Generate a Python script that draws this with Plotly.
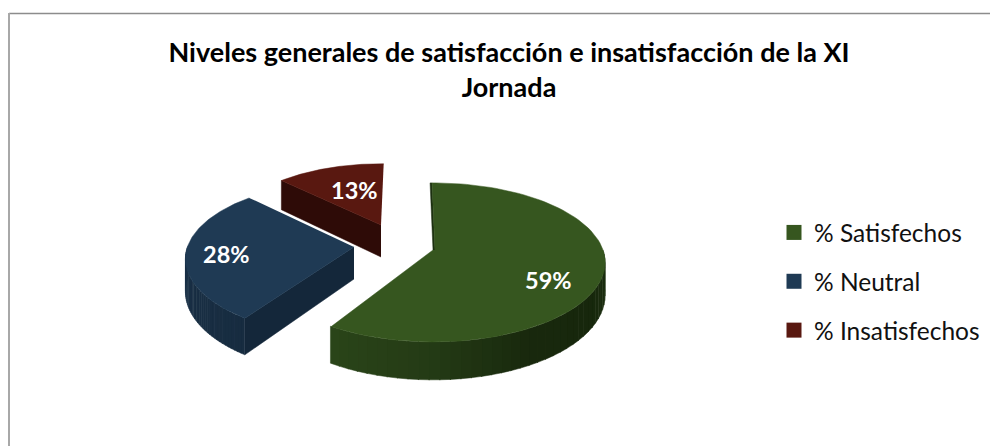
import numpy as np
import plotly.graph_objects as go

categories = ["% Satisfechos", "% Neutral", "% Insatisfechos"]
values = [59, 28, 13]
title_text = "Niveles generales de satisfacción e insatisfacción de la XI<br>Jornada"

top_colors = ["#36561F", "#1F3A54", "#591810"]
wall_stops = [[(0x2A, 0x44, 0x19), (0x24, 0x3B, 0x15), (0x18, 0x28, 0x0D), (0x17, 0x27, 0x0C), (0x1E, 0x33, 0x11)],
              [(0x1A, 0x31, 0x47), (0x17, 0x2C, 0x40)],
              [(0x2C, 0x0A, 0x06), (0x2C, 0x0A, 0x06)]]
cut_colors = ["#1D3010", "#14273A", "#2E0B07"]
apexes = [(433, 250), (354, 247), (381, 225)]
rotations = [-0.02, 0.045, 0.02]
scales = [1.0, 0.98, 0.9]
label_xy = [(548, 280), (226, 254), (354, 190)]

RX, RY, K, DEPTH = 170, 77.6, 0.156, 32
OFF = 8  # page margin of the browser body
FIG_W, FIG_H = 990, 438
N_BANDS = 40


def px(p):
    return (p - OFF) / FIG_W


def py(p):
    return 1 - (p - OFF) / FIG_H


def project(apex, theta, radial=1.0, drop=0.0):
    u, v = radial * np.sin(theta), radial * np.cos(theta)
    s = 1 / (1 + K * v)
    return apex[0] + RX * u * s, apex[1] - RY * v * s + drop * s


def poly(fig, xs, ys, color):
    fig.add_trace(go.Scatter(x=np.asarray(xs), y=np.asarray(ys), mode="lines", fill="toself",
                             fillcolor=color, line=dict(color=color, width=0.5),
                             hoverinfo="skip", showlegend=False))


def wall(fig, apex, t0, t1, radial, color):
    t = np.linspace(t0, t1, 8)
    xa, ya = project(apex, t, radial)
    xb, yb = project(apex, t, radial, DEPTH)
    poly(fig, np.r_[xa, xb[::-1]], np.r_[ya, yb[::-1]], color)


def cut(fig, apex, t, radial, color):
    p0 = project(apex, t, 0.0)
    p1 = project(apex, t, radial)
    p2 = project(apex, t, radial, DEPTH)
    p3 = project(apex, t, 0.0, DEPTH)
    poly(fig, [p0[0], p1[0], p2[0], p3[0]], [p0[1], p1[1], p2[1], p3[1]], color)


def gradient(stops, f):
    pos = f * (len(stops) - 1)
    i = min(int(pos), len(stops) - 2)
    w = pos - i
    c = [round(stops[i][k] * (1 - w) + stops[i + 1][k] * w) for k in range(3)]
    return f"rgb({c[0]},{c[1]},{c[2]})"


fig = go.Figure()
fractions = np.array(values) / sum(values)
edges = 2 * np.pi * np.r_[0, np.cumsum(fractions)]
front_start = np.pi / 2

for i in [2, 1, 0]:
    a0, a1 = edges[i] + rotations[i], edges[i + 1] + rotations[i]
    apex = apexes[i]
    r = scales[i]
    if i == 0:
        # thin sliver of the cut face at the back of the large slice
        p = project(apex, a0)
        poly(fig, [apex[0], p[0], p[0] + 2, (p[0] + apex[0]) / 2 + 2, apex[0] + 2],
             [apex[1], p[1], p[1], (p[1] + apex[1]) / 2, apex[1]], cut_colors[i])
    else:
        cut(fig, apex, a0, r, cut_colors[i])
    w0, w1 = max(a0, front_start), min(a1, 3 * np.pi / 2)
    if w1 > w0:
        bands = np.linspace(w0, w1, N_BANDS + 1)
        for j in range(N_BANDS):
            f = 1 - (j + 0.5) / N_BANDS  # stops run from left to right
            wall(fig, apex, bands[j], bands[j + 1] + 0.005, r, gradient(wall_stops[i], f))
    t = np.linspace(a0, a1, 90)
    x, y = project(apex, t, r)
    if i == 0:
        # top surface leaves the sliver showing along its left edge
        x[0] += 2
        poly(fig, np.r_[apex[0] + 2, x, apex[0]], np.r_[apex[1], y, apex[1]], top_colors[i])
    else:
        poly(fig, np.r_[apex[0], x], np.r_[apex[1], y], top_colors[i])

for name, color, v, xy in zip(categories, top_colors, values, label_xy):
    fig.add_trace(go.Scatter(x=[None], y=[None], mode="markers", name=name, legendgroup=name,
                             marker=dict(symbol="square", size=15, color=color), hoverinfo="skip"))
    fig.add_annotation(x=xy[0], y=xy[1], text=f"<b>{v}%</b>", showarrow=False,
                       font=dict(family="Lato", size=23.5, color="white"))

fig.update_layout(
    width=FIG_W, height=FIG_H, margin=dict(l=0, r=0, t=0, b=0),
    paper_bgcolor="white", plot_bgcolor="white",
    font=dict(family="Lato", color="#111111"),
    xaxis=dict(range=[OFF, OFF + FIG_W], visible=False, fixedrange=True),
    yaxis=dict(range=[OFF + FIG_H, OFF], visible=False, fixedrange=True),
    title=dict(text=f"<b>{title_text}</b>", x=px(509), xanchor="center", y=py(62), yanchor="middle",
               font=dict(family="Lato", size=27, color="#000000")),
    legend=dict(x=px(774), xanchor="left", y=py(281.5), yanchor="middle", tracegroupgap=14,
                font=dict(family="Lato", size=24.5, color="#111111"), itemwidth=30,
                bgcolor="rgba(0,0,0,0)"),
    shapes=[
        dict(type="line", xref="x", yref="y", x0=9, x1=998, y0=13.5, y1=13.5,
             line=dict(color="#8C8C8C", width=1.5), layer="below"),
        dict(type="line", xref="x", yref="y", x0=9, x1=9, y0=13, y1=446,
             line=dict(color="#A8A8A8", width=2), layer="below"),
    ],
)
fig.write_html("out.html")
